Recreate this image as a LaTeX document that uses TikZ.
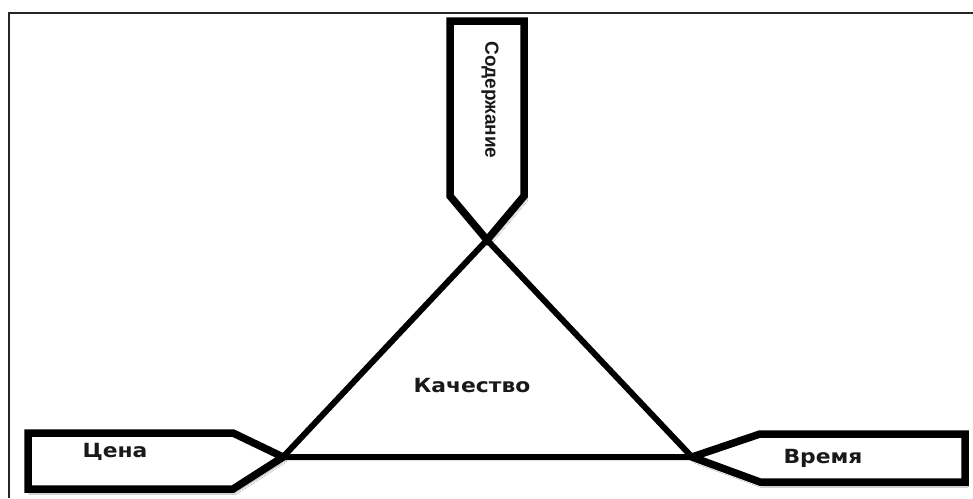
\documentclass[tikz,border=0pt]{standalone}
\usepackage{fontspec}
\newfontfamily\lblfont[FakeStretch=1.12]{DejaVu Sans Bold}
\newfontfamily\vertfont{Liberation Sans Bold}
\usetikzlibrary{shadows.blur}
\tikzset{
  frameline/.style={line width=1.5pt, draw=black!85},
  pennant/.style={line width=7.5pt, draw=black, fill=white, line join=miter,
    blur shadow={shadow xshift=2pt, shadow yshift=-4pt, shadow blur steps=6, shadow opacity=35}},
  triline/.style={line width=6pt, draw=black, line join=miter},
  lbl/.style={font=\lblfont\fontsize{19.5}{22}\selectfont, text=black!90, inner sep=0pt},
  vlbl/.style={font=\vertfont\fontsize{19}{22}\selectfont, text=black!90, inner sep=0pt, rotate=-90}
}
\begin{document}
\begin{tikzpicture}[x=1pt,y=-1pt]
\useasboundingbox (0,0) rectangle (973,498);
\fill[white] (0,0) rectangle (973,498);
% frame
\coordinate (fbl) at (9,498);
\coordinate (ftl) at (9,13);
\coordinate (ftr) at (973,13);
\draw[frameline] (fbl) -- (ftl) -- (ftr);
% key points
\coordinate (apex) at (487,240);
\coordinate (bl) at (283,457);
\coordinate (br) at (692,457);
% top pennant
\draw[pennant] (450,21) -- (450,196) -- (apex) -- (524,196) -- (524,21) -- cycle;
% left pennant
\draw[pennant] (28,433) -- (233,433) -- (bl) -- (233,489) -- (28,489) -- cycle;
% right pennant
\draw[pennant] (965,434) -- (760,434) -- (br) -- (760,482) -- (965,482) -- cycle;
% triangle
\draw[triline] (apex) -- (br) -- (bl) -- cycle;
% labels
\node[vlbl] (sod) at (490,100) {Содержание};
\node[lbl] (cena) at (115,452) {Цена};
\node[lbl] (vrem) at (823,458) {Время};
\node[lbl] (kach) at (472,386) {Качество};
\end{tikzpicture}
\end{document}
